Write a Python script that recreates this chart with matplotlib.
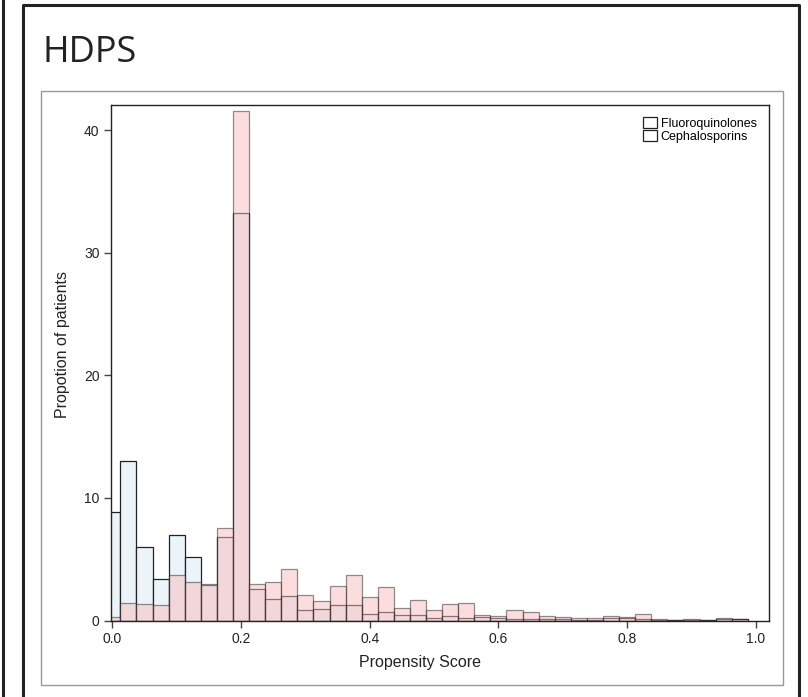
import numpy as np
import matplotlib
matplotlib.use('Agg')
import matplotlib.pyplot as plt
from matplotlib.patches import Patch, Rectangle
from matplotlib.lines import Line2D

# histogram bins (width 0.025, centred on multiples of 0.025)
bin_width = 0.025
bin_centers = np.arange(40) * bin_width

fluoro = [8.88, 13.04, 5.97, 3.41, 6.97, 5.18, 2.87, 6.79, 33.26, 2.54,
          1.78, 2.0, 0.83, 0.91, 1.29, 1.24, 0.55, 0.69, 0.42, 0.42,
          0.23, 0.37, 0.2, 0.25, 0.17, 0.1, 0.1, 0.15, 0.1, 0.08,
          0.05, 0.2, 0.2, 0.1, 0.05, 0.03, 0.05, 0.03, 0.1, 0.1]
cephalo = [0.31, 1.43, 1.32, 1.24, 3.69, 3.11, 2.98, 7.52, 41.6, 2.98,
           3.11, 4.17, 2.06, 1.56, 2.81, 3.69, 1.92, 2.76, 1.02, 1.67,
           0.86, 1.35, 1.40, 0.47, 0.39, 0.83, 0.72, 0.39, 0.32, 0.23,
           0.2, 0.35, 0.32, 0.53, 0.12, 0.03, 0.12, 0.03, 0.2, 0.15]

x_ticks = [0.0, 0.2, 0.4, 0.6, 0.8, 1.0]
y_ticks = [0, 10, 20, 30, 40]

W, H = 808, 697


def fx(px):
    return px / W


def fy(py):
    return 1 - py / H


fig = plt.figure(figsize=(W / 100, H / 100), dpi=100)
fig.patch.set_facecolor('white')

# frames around the panel
fig.add_artist(Line2D([fx(3), fx(3)], [0, 1], color='#222222', lw=2.2))
fig.add_artist(Line2D([fx(23), fx(23), fx(799), fx(799)],
                      [0, fy(5), fy(5), 0], color='#222222', lw=2.2))
fig.add_artist(Rectangle((fx(41), fy(685)), fx(783) - fx(41), fy(91) - fy(685),
                         fill=False, edgecolor='#999999', lw=1.0,
                         transform=fig.transFigure))

fig.text(fx(43), fy(62), 'HDPS', fontsize=26, family='Open Sans',
         color='#222222', va='baseline', ha='left')

ax = fig.add_axes([fx(110.7), fy(621), fx(769.3) - fx(110.7), fy(105) - fy(621)])

ax.bar(bin_centers, fluoro, width=bin_width, color='#eaf4f9',
       edgecolor='#222222', linewidth=0.9)
ax.bar(bin_centers, cephalo, width=bin_width, color='#fbbcbc', alpha=0.5,
       edgecolor='#222222', linewidth=0.9)

ax.set_xlim(-0.0025, 1.0209)
ax.set_ylim(-0.04, 42.05)
ax.set_xticks(x_ticks)
ax.set_xticklabels(['%.1f' % v for v in x_ticks])
ax.set_yticks(y_ticks)
for s in ax.spines.values():
    s.set_linewidth(1.0)
    s.set_color('#222222')
ax.tick_params(direction='out', length=5, width=1, color='#444444',
               labelsize=10, labelcolor='#222222', pad=3)
for lab in ax.get_xticklabels() + ax.get_yticklabels():
    lab.set_family('Liberation Sans')

fig.text(fx(63), fy(345), 'Propotion of patients', rotation=90,
         ha='center', va='center', fontsize=11.5, family='Liberation Sans',
         color='#222222')
fig.text(fx(420), fy(662), 'Propensity Score', ha='center', va='center',
         fontsize=11.5, family='Liberation Sans', color='#222222')

handles = [Patch(facecolor='white', edgecolor='#222222', lw=0.9),
           Patch(facecolor='white', edgecolor='#222222', lw=0.9)]
leg = fig.legend(handles, ['Fluoroquinolones', 'Cephalosporins'],
                 loc='upper left', bbox_to_anchor=(fx(637), fy(111)),
                 bbox_transform=fig.transFigure, frameon=False, borderpad=0,
                 handlelength=1.1, handleheight=1.0, labelspacing=0,
                 handletextpad=0.3, prop={'family': 'Liberation Sans', 'size': 9})

fig.savefig('out.png', dpi=100)
